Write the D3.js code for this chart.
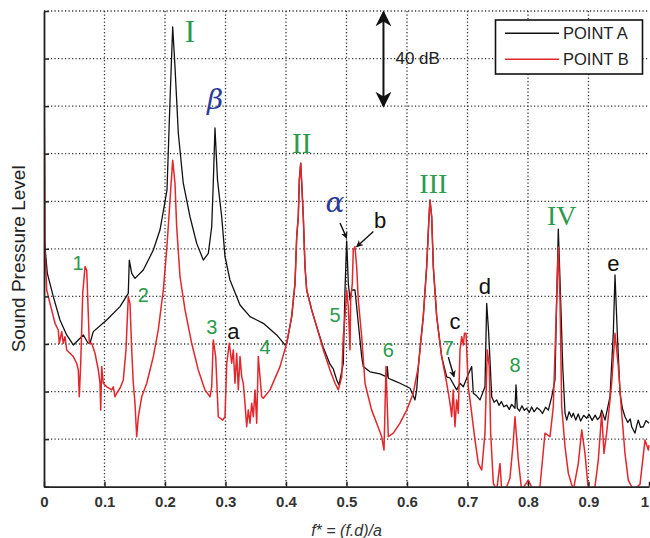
<!DOCTYPE html>
<html>
<head>
<meta charset="utf-8">
<script src="https://cdn.jsdelivr.net/npm/d3@7/dist/d3.min.js"></script>
<style>
  html, body { margin: 0; padding: 0; background: #fff; }
  svg { display: block; }
  .tick text { font-family: "Liberation Sans", Arial, sans-serif; }
</style>
</head>
<body>
<svg id="chart" width="650" height="538"></svg>
<script>
// Normalised frequency f* (x) and relative sound pressure level in dB (y)
const xTicks = [0, 0.1, 0.2, 0.3, 0.4, 0.5, 0.6, 0.7, 0.8, 0.9, 1];
const xTickLabels = ["0", "0.1", "0.2", "0.3", "0.4", "0.5", "0.6", "0.7", "0.8", "0.9", "1"];
const yTicks = [0, 20, 40, 60, 80, 100, 120, 140, 160, 180, 200];

// POINT A spectrum: [f*, dB]
const pointA = [
  [0.0000,105.4],[0.0055,89.7],[0.0154,79.9],[0.0264,70.1],[0.0375,63.8],[0.0484,59.6],
  [0.0567,61.7],[0.0650,63.8],[0.0727,60.4],[0.0760,60.3],[0.0815,65.2],[0.1036,70.1],
  [0.1256,75.7],[0.1393,81.3],[0.1410,95.3],[0.1450,89.7],[0.1504,87.6],[0.1641,91.1],
  [0.1807,99.5],[0.1917,107.9],[0.2033,124.7],[0.2083,162.5],[0.2127,193.3],[0.2165,176.6],
  [0.2220,148.6],[0.2302,127.6],[0.2413,113.5],[0.2524,102.3],[0.2633,95.3],[0.2716,98.1],
  [0.2772,109.3],[0.2798,127.7],[0.2826,150.8],[0.2868,128.9],[0.2937,113.5],[0.2992,96.7],
  [0.3074,86.9],[0.3240,76.4],[0.3405,71.5],[0.3625,68.7],[0.3846,63.8],[0.3983,59.6],
  [0.4012,60.3],[0.4094,71.5],[0.4149,85.5],[0.4177,105.1],[0.4203,113.5],[0.4220,128.9],
  [0.4243,136.0],[0.4260,127.6],[0.4286,113.5],[0.4314,92.5],[0.4342,82.7],[0.4425,74.3],
  [0.4507,67.3],[0.4617,58.5],[0.4727,51.5],[0.4782,49.5],[0.4838,44.9],[0.4876,42.8],
  [0.4947,51.9],[0.4975,82.7],[0.5003,103.3],[0.5030,85.5],[0.5058,78.5],[0.5085,82.7],
  [0.5140,82.7],[0.5168,75.7],[0.5195,68.7],[0.5251,54.7],[0.5278,50.5],[0.5388,48.3],
  [0.5554,47.4],[0.5664,46.2],[0.5674,50.5],[0.5691,45.6],[0.5802,44.4],[0.5884,43.5],
  [0.6050,41.4],[0.6132,36.5],[0.6160,40.7],[0.6187,50.5],[0.6269,71.5],[0.6325,92.5],
  [0.6364,113.5],[0.6380,120.5],[0.6408,113.5],[0.6435,92.5],[0.6491,71.5],[0.6573,54.7],
  [0.6656,46.2],[0.6711,45.7],[0.6821,40.7],[0.6876,43.5],[0.6931,42.0],[0.7008,47.0],
  [0.7069,50.5],[0.7096,39.3],[0.7150,38.2],[0.7207,36.5],[0.7289,42.0],[0.7317,77.1],
  [0.7347,65.9],[0.7372,53.3],[0.7400,37.8],[0.7440,35.5],[0.7483,36.5],[0.7520,34.2],
  [0.7560,35.8],[0.7600,33.6],[0.7648,34.3],[0.7690,32.5],[0.7730,34.6],[0.7785,33.0],
  [0.7802,42.8],[0.7823,33.0],[0.7860,31.8],[0.7900,34.0],[0.7940,32.1],[0.7979,33.0],
  [0.8020,31.2],[0.8060,33.5],[0.8100,31.5],[0.8150,33.2],[0.8198,32.2],[0.8240,30.8],
  [0.8290,33.4],[0.8336,32.2],[0.8392,37.8],[0.8446,44.9],[0.8474,78.5],[0.8501,108.3],
  [0.8540,78.5],[0.8574,50.5],[0.8612,30.9],[0.8640,28.0],[0.8680,31.5],[0.8720,29.2],
  [0.8749,30.9],[0.8790,28.0],[0.8830,30.6],[0.8870,27.6],[0.8920,30.0],[0.8970,28.8],
  [0.9010,30.4],[0.9060,27.9],[0.9110,30.1],[0.9150,28.2],[0.9190,29.4],[0.9218,32.2],
  [0.9273,28.0],[0.9355,37.8],[0.9410,64.5],[0.9438,89.0],[0.9476,64.5],[0.9521,39.3],
  [0.9560,33.0],[0.9603,29.4],[0.9650,27.0],[0.9690,28.5],[0.9714,25.2],[0.9769,22.5],
  [0.9800,26.0],[0.9823,28.0],[0.9860,25.0],[0.9906,25.2],[0.9950,27.8],[1.0000,26.7]
];

// POINT B spectrum: [f*, dB]
const pointB = [
  [0.0000,169.8],[0.0013,129.0],[0.0017,99.5],[0.0045,82.7],[0.0099,77.1],[0.0182,68.7],
  [0.0236,65.9],[0.0253,60.3],[0.0293,65.2],[0.0319,60.3],[0.0347,63.1],[0.0375,57.5],
  [0.0430,56.1],[0.0484,54.7],[0.0540,51.9],[0.0567,49.1],[0.0583,37.8],[0.0607,51.9],
  [0.0640,81.3],[0.0678,92.5],[0.0706,91.1],[0.0722,79.9],[0.0749,60.3],[0.0788,60.3],
  [0.0843,56.1],[0.0898,49.1],[0.0926,43.5],[0.0937,32.2],[0.0954,50.5],[0.0980,43.5],
  [0.1036,42.0],[0.1119,40.7],[0.1145,42.0],[0.1174,37.8],[0.1202,39.3],[0.1256,41.4],
  [0.1311,44.9],[0.1355,57.5],[0.1393,79.9],[0.1421,77.1],[0.1450,57.5],[0.1476,43.5],
  [0.1504,35.1],[0.1532,21.0],[0.1559,29.4],[0.1615,37.8],[0.1698,43.5],[0.1807,54.7],
  [0.1889,65.9],[0.1972,82.7],[0.2028,99.5],[0.2083,120.5],[0.2127,137.3],[0.2165,127.6],
  [0.2193,109.3],[0.2248,88.3],[0.2331,74.3],[0.2441,60.3],[0.2550,49.1],[0.2661,40.7],
  [0.2744,37.8],[0.2772,42.0],[0.2798,61.7],[0.2838,54.7],[0.2881,29.4],[0.2954,28.0],
  [0.2992,29.4],[0.3020,51.9],[0.3063,60.3],[0.3102,51.9],[0.3129,57.5],[0.3157,43.5],
  [0.3185,56.1],[0.3212,40.7],[0.3240,54.7],[0.3268,46.2],[0.3294,43.5],[0.3322,35.1],
  [0.3350,25.2],[0.3377,32.2],[0.3405,26.7],[0.3433,35.1],[0.3460,29.4],[0.3488,40.7],
  [0.3516,26.7],[0.3542,54.7],[0.3570,46.2],[0.3598,37.8],[0.3625,37.2],[0.3736,40.7],
  [0.3901,50.5],[0.4012,60.3],[0.4094,71.5],[0.4149,85.5],[0.4177,105.1],[0.4203,113.5],
  [0.4220,128.9],[0.4243,136.0],[0.4260,127.6],[0.4286,113.5],[0.4314,92.5],[0.4342,82.7],
  [0.4425,74.3],[0.4507,67.3],[0.4617,57.5],[0.4727,49.1],[0.4810,43.5],[0.4865,40.7],
  [0.4921,46.2],[0.4947,63.1],[0.4975,71.5],[0.5003,82.7],[0.5030,75.7],[0.5058,57.5],
  [0.5069,78.5],[0.5096,85.5],[0.5112,99.5],[0.5140,100.9],[0.5168,92.5],[0.5195,78.5],
  [0.5251,63.1],[0.5306,43.5],[0.5360,37.8],[0.5416,32.2],[0.5499,26.7],[0.5582,21.0],
  [0.5620,15.4],[0.5653,50.5],[0.5691,21.0],[0.5774,22.5],[0.5884,26.7],[0.5995,32.2],
  [0.6104,39.3],[0.6187,50.5],[0.6269,71.5],[0.6325,92.5],[0.6364,113.5],[0.6380,120.5],
  [0.6408,113.5],[0.6435,92.5],[0.6491,71.5],[0.6573,54.7],[0.6656,43.5],[0.6711,35.1],
  [0.6739,29.4],[0.6765,40.7],[0.6793,25.2],[0.6821,36.5],[0.6848,30.9],[0.6876,57.5],
  [0.6904,63.1],[0.6931,59.6],[0.6950,64.5],[0.6975,64.5],[0.6987,57.5],[0.7013,42.0],
  [0.7069,30.9],[0.7124,19.6],[0.7179,9.8],[0.7235,7.0],[0.7289,22.5],[0.7327,57.5],
  [0.7360,50.5],[0.7383,22.5],[0.7427,1.4],[0.7483,-1.4],[0.7537,9.8],[0.7565,-1.4],
  [0.7648,0.0],[0.7702,3.7],[0.7752,17.5],[0.7785,29.4],[0.7840,11.2],[0.7895,-1.4],
  [0.8005,2.8],[0.8083,-1.4],[0.8198,0.0],[0.8281,22.5],[0.8364,21.0],[0.8418,33.6],
  [0.8474,78.5],[0.8501,100.8],[0.8529,78.5],[0.8557,33.6],[0.8612,16.8],[0.8667,5.6],
  [0.8749,-1.4],[0.8832,9.8],[0.8888,23.8],[0.8942,14.0],[0.8997,-1.4],[0.9107,0.0],
  [0.9162,11.2],[0.9218,30.9],[0.9256,14.0],[0.9300,22.5],[0.9383,43.5],[0.9438,64.5],
  [0.9493,50.5],[0.9549,30.9],[0.9603,14.0],[0.9658,2.8],[0.9741,-1.4],[0.9851,1.0],
  [0.9934,19.6],[0.9989,15.4],[1.0000,17.5]
];

// Annotations: mode names (roman, green serif), tonal lines (green numbers),
// Greek peaks (blue italic) and letters (black)
const romanLabels = [
  { t: "I",   f: 0.2413, db: 191.5, size: 31 },
  { t: "II",  f: 0.4259, db: 144.4, size: 29 },
  { t: "III", f: 0.6435, db: 127.5, size: 28 },
  { t: "IV",  f: 0.8557, db: 114.2, size: 28 }
];
const numberLabels = [
  { t: "1", f: 0.0562, db: 93.9 }, { t: "2", f: 0.1642, db: 80.6 },
  { t: "3", f: 0.2772, db: 67.3 }, { t: "4", f: 0.3653, db: 58.8 },
  { t: "5", f: 0.4810, db: 72.2 }, { t: "6", f: 0.5691, db: 57.4 },
  { t: "7", f: 0.6683, db: 58.2 }, { t: "8", f: 0.7785, db: 51.2 }
];
const greekLabels = [
  { t: "β", f: 0.2826, db: 162.6 },
  { t: "α", f: 0.4810, db: 119.5 }
];
const letterLabels = [
  { t: "a", f: 0.3129, db: 65.2 }, { t: "b", f: 0.5554, db: 112.1 },
  { t: "c", f: 0.6793, db: 69.4 }, { t: "d", f: 0.7289, db: 84.0 },
  { t: "e", f: 0.9410, db: 93.9 }
];
// Pointer arrows: [from f, from dB] -> [to f, to dB]
const pointers = [
  { from: [0.4893, 110.9], to: [0.5003, 104.5] },
  { from: [0.5444, 107.3], to: [0.5168, 100.9] },
  { from: [0.6683, 54.5],  to: [0.6777, 46.2] }
];

const legendItems = [
  { name: "POINT A", color: "#111111" },
  { name: "POINT B", color: "#e3262b" }
];

const plot = { left: 44, right: 649, top: 11, bottom: 486.7 };

const svg = d3.select("#chart");
const x = d3.scaleLinear().domain([0, 1]).range([plot.left, plot.right]);
const y = d3.scaleLinear().domain([0, 200]).range([plot.bottom, plot.top]);

const defs = svg.append("defs");
defs.append("clipPath").attr("id", "plotClip")
  .append("rect")
  .attr("x", plot.left).attr("y", plot.top)
  .attr("width", plot.right - plot.left + 1)
  .attr("height", plot.bottom - plot.top);

// Dotted grid
const grid = svg.append("g").attr("class", "grid")
  .attr("stroke", "#333").attr("stroke-width", 1.3)
  .attr("stroke-dasharray", "1.2,2.3").attr("fill", "none");
grid.selectAll("line.v").data(xTicks.filter(d => d > 0 && d < 1)).join("line")
  .attr("class", "v")
  .attr("x1", d => x(d)).attr("x2", d => x(d))
  .attr("y1", plot.top).attr("y2", plot.bottom);
grid.selectAll("line.h").data(yTicks.filter(d => d > 0)).join("line")
  .attr("class", "h")
  .attr("x1", plot.left).attr("x2", plot.right)
  .attr("y1", d => y(d)).attr("y2", d => y(d));

// Spectra (POINT B drawn over POINT A)
const line = d3.line().x(d => x(d[0])).y(d => y(d[1]));
const curves = svg.append("g").attr("clip-path", "url(#plotClip)");
curves.append("path").datum(pointA)
  .attr("d", line).attr("fill", "none")
  .attr("stroke", legendItems[0].color).attr("stroke-width", 1.3)
  .attr("stroke-linejoin", "round");
curves.append("path").datum(pointB)
  .attr("d", line).attr("fill", "none")
  .attr("stroke", legendItems[1].color).attr("stroke-width", 1.5)
  .attr("stroke-linejoin", "round");

// Axes with inward ticks
const xAxis = d3.axisBottom(x).tickValues(xTicks)
  .tickFormat((d, i) => xTickLabels[i]).tickSizeInner(-5).tickSizeOuter(0).tickPadding(10);
const gx = svg.append("g").attr("transform", `translate(0,${plot.bottom})`).call(xAxis);
gx.select(".domain").attr("stroke", "#222").attr("stroke-width", 1.8);
gx.selectAll(".tick line").attr("stroke", "#222").attr("stroke-width", 1.5);
gx.selectAll(".tick text").attr("font-size", 15).attr("font-weight", "bold").attr("fill", "#333");
// last label kept inside the right edge
gx.selectAll(".tick text").filter(d => d === 1).attr("text-anchor", "end").attr("dx", -0.5);

const yAxis = d3.axisLeft(y).tickValues(yTicks).tickFormat("")
  .tickSizeInner(-5).tickSizeOuter(0);
const gy = svg.append("g").attr("transform", `translate(${plot.left},0)`).call(yAxis);
gy.select(".domain").attr("stroke", "#222").attr("stroke-width", 1.8);
gy.selectAll(".tick line").attr("stroke", "#222").attr("stroke-width", 1.5);

// Axis titles
svg.append("text")
  .attr("transform", `translate(18,${(plot.top + plot.bottom) / 2 + 10}) rotate(-90)`)
  .attr("text-anchor", "middle").attr("dominant-baseline", "central")
  .attr("font-family", "'Liberation Sans', Arial, sans-serif")
  .attr("font-size", 19).attr("fill", "#222")
  .text("Sound Pressure Level");
svg.append("text")
  .attr("x", x(0.5)).attr("y", 530)
  .attr("text-anchor", "middle").attr("dominant-baseline", "central")
  .attr("font-family", "'Liberation Sans', Arial, sans-serif")
  .attr("font-style", "italic").attr("font-size", 16).attr("fill", "#333")
  .text("f* = (f.d)/a");

// Annotation text
const ann = svg.append("g");
ann.selectAll("text.roman").data(romanLabels).join("text")
  .attr("class", "roman")
  .attr("x", d => x(d.f)).attr("y", d => y(d.db))
  .attr("text-anchor", "middle").attr("dominant-baseline", "central")
  .attr("font-family", "'Liberation Serif', 'Times New Roman', serif")
  .attr("font-size", d => d.size).attr("fill", "#2a9a4c")
  .text(d => d.t);
ann.selectAll("text.num").data(numberLabels).join("text")
  .attr("class", "num")
  .attr("x", d => x(d.f)).attr("y", d => y(d.db))
  .attr("text-anchor", "middle").attr("dominant-baseline", "central")
  .attr("font-family", "'Liberation Sans', Arial, sans-serif")
  .attr("font-size", 20).attr("fill", "#2a9a4c")
  .text(d => d.t);
ann.selectAll("text.greek").data(greekLabels).join("text")
  .attr("class", "greek")
  .attr("x", d => x(d.f)).attr("y", d => y(d.db))
  .attr("text-anchor", "middle").attr("dominant-baseline", "central")
  .attr("font-family", "'DejaVu Serif', 'Liberation Serif', serif")
  .attr("font-style", "italic").attr("font-size", 28).attr("fill", "#2b3a98")
  .text(d => d.t);
ann.selectAll("text.letter").data(letterLabels).join("text")
  .attr("class", "letter")
  .attr("x", d => x(d.f)).attr("y", d => y(d.db))
  .attr("text-anchor", "middle").attr("dominant-baseline", "central")
  .attr("font-family", "'Liberation Sans', Arial, sans-serif")
  .attr("font-size", 22).attr("fill", "#111")
  .text(d => d.t);

// Pointer arrows
defs.append("marker").attr("id", "tip")
  .attr("viewBox", "0 0 10 10").attr("refX", 9).attr("refY", 5)
  .attr("markerWidth", 5).attr("markerHeight", 5).attr("orient", "auto")
  .append("path").attr("d", "M0,0 L10,5 L0,10 L3,5 Z").attr("fill", "#111");
ann.selectAll("line.ptr").data(pointers).join("line")
  .attr("class", "ptr")
  .attr("x1", d => x(d.from[0])).attr("y1", d => y(d.from[1]))
  .attr("x2", d => x(d.to[0])).attr("y2", d => y(d.to[1]))
  .attr("stroke", "#111").attr("stroke-width", 1.4)
  .attr("marker-end", "url(#tip)");

// 40 dB scale bar (spans two grid divisions)
const barX = x(0.5611);
const barTop = y(200) + 1, barBot = y(160);
defs.append("marker").attr("id", "bigtip")
  .attr("viewBox", "0 0 10 10").attr("refX", 9).attr("refY", 5)
  .attr("markerWidth", 16).attr("markerHeight", 16).attr("orient", "auto-start-reverse")
  .attr("markerUnits", "userSpaceOnUse")
  .append("path").attr("d", "M0,0 L10,5 L0,10 L3,5 Z").attr("fill", "#111");
svg.append("line")
  .attr("x1", barX).attr("x2", barX).attr("y1", barTop).attr("y2", barBot)
  .attr("stroke", "#111").attr("stroke-width", 2)
  .attr("marker-start", "url(#bigtip)").attr("marker-end", "url(#bigtip)");
svg.append("text")
  .attr("x", barX + 12).attr("y", y(180))
  .attr("dominant-baseline", "central")
  .attr("font-family", "'Liberation Sans', Arial, sans-serif")
  .attr("font-size", 17).attr("fill", "#222")
  .text("40 dB");

// Legend
const lg = svg.append("g");
lg.append("rect")
  .attr("x", 495.5).attr("y", 20).attr("width", 147).attr("height", 54)
  .attr("fill", "#fff").attr("stroke", "#111").attr("stroke-width", 1.6);
const li = lg.selectAll("g.item").data(legendItems).join("g")
  .attr("class", "item")
  .attr("transform", (d, i) => `translate(505,${33.3 + i * 26})`);
li.append("line").attr("x1", 0).attr("x2", 54).attr("y1", 0).attr("y2", 0)
  .attr("stroke", d => d.color).attr("stroke-width", 1.5);
li.append("text").attr("x", 58).attr("y", 0)
  .attr("dominant-baseline", "central")
  .attr("font-family", "'Liberation Sans', Arial, sans-serif")
  .attr("font-size", 16.5).attr("fill", "#222")
  .text(d => d.name);
</script>
</body>
</html>
